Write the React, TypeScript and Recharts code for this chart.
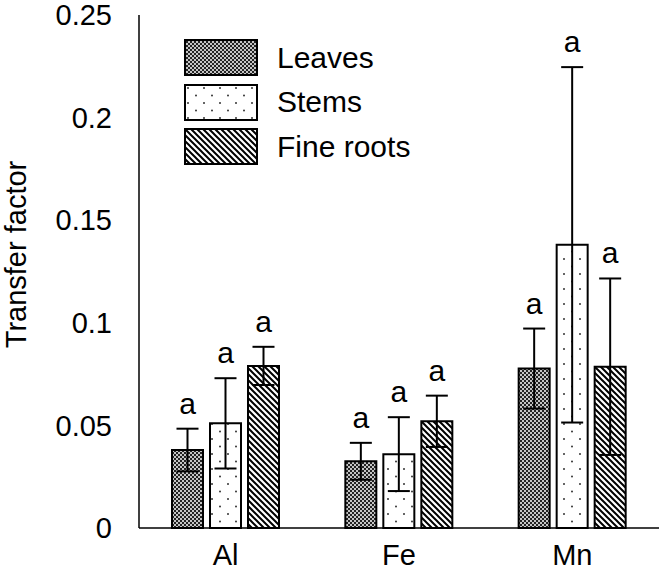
import React from 'react';
import { BarChart, Bar, XAxis, YAxis, ErrorBar, LabelList, Legend, Label } from 'recharts';

// Transfer factor per element and plant part (mean ± SD)
const elements = ['Al', 'Fe', 'Mn'];
const leavesMean = [0.038, 0.0325, 0.0777];
const leavesSd = [0.0104, 0.009, 0.0195];
const stemsMean = [0.051, 0.036, 0.138];
const stemsSd = [0.022, 0.018, 0.0866];
const rootsMean = [0.079, 0.052, 0.0786];
const rootsSd = [0.0093, 0.0125, 0.043];
const yTicks = [0, 0.05, 0.1, 0.15, 0.2, 0.25];

const series = [
  { key: 'leaves', name: 'Leaves', pattern: 'pat-leaves', sd: leavesSd },
  { key: 'stems', name: 'Stems', pattern: 'pat-stems', sd: stemsSd },
  { key: 'roots', name: 'Fine roots', pattern: 'pat-roots', sd: rootsSd },
];

const data = elements.map((el, i) => ({
  name: el,
  leaves: leavesMean[i],
  leavesErr: leavesSd[i],
  stems: stemsMean[i],
  stemsErr: stemsSd[i],
  roots: rootsMean[i],
  rootsErr: rootsSd[i],
}));

const FONT = '"Liberation Sans", Arial, sans-serif';

// significance letter sitting just above the top of the error bar
const letterLabel = (sd: number[]) => (props: any) => {
  const { x, y, width, height, value, index } = props;
  const perUnit = value ? height / value : 0;
  const errTop = y - sd[index] * perUnit;
  return (
    <text x={x + width / 2} y={errTop - 15} textAnchor="middle" fontSize={30} fontFamily={FONT} fill="#000">
      a
    </text>
  );
};

const renderLegend = () => (
  <div style={{ fontFamily: FONT, fontSize: 30, color: '#000' }}>
    {series.map((s) => (
      <div key={s.key} style={{ display: 'flex', alignItems: 'center', height: 37, marginBottom: 7.6 }}>
        <svg width={74} height={37} style={{ display: 'block' }}>
          <rect x={1} y={1} width={72} height={35} fill={`url(#${s.pattern})`} stroke="#000" strokeWidth={2} />
        </svg>
        <span style={{ marginLeft: 19, whiteSpace: 'nowrap' }}>{s.name}</span>
      </div>
    ))}
  </div>
);

export default function App() {
  return (
    <div style={{ position: 'absolute', left: 0, top: 0, background: '#fff' }}>
      <BarChart
        width={662}
        height={576}
        data={data}
        margin={{ top: 15, right: 3, left: 0, bottom: 0 }}
        barSize={31}
        barGap={7}
      >
        <defs>
          <pattern id="pat-leaves" patternUnits="userSpaceOnUse" width={4} height={4}>
            <rect width={4} height={4} fill="#c4c4c4" />
            <rect width={2} height={2} fill="#222" />
            <rect x={2} y={2} width={2} height={2} fill="#222" />
          </pattern>
          <pattern id="pat-stems" patternUnits="userSpaceOnUse" width={16} height={15}>
            <rect width={16} height={15} fill="#fff" />
            <circle cx={4} cy={4} r={1} fill="#333" />
            <circle cx={12} cy={11.5} r={1} fill="#333" />
          </pattern>
          <pattern id="pat-roots" patternUnits="userSpaceOnUse" width={6} height={6}>
            <rect width={6} height={6} fill="#fff" />
            <path d="M-1,-1 L7,7 M-1,5 L1,7 M5,-1 L7,1" stroke="#000" strokeWidth={2} />
          </pattern>
        </defs>
        <XAxis
          dataKey="name"
          height={48}
          axisLine={{ stroke: '#000', strokeWidth: 1.5 }}
          tickLine={false}
          tickSize={0}
          tickMargin={16}
          tick={{ fill: '#000', fontSize: 29, fontFamily: FONT }}
        />
        <YAxis
          width={139}
          domain={[0, 0.25]}
          ticks={yTicks}
          interval={0}
          axisLine={{ stroke: '#000', strokeWidth: 1.5 }}
          tickLine={false}
          tickSize={0}
          tickMargin={27}
          tickFormatter={(v: number) => String(v)}
          tick={{ fill: '#000', fontSize: 29, fontFamily: FONT }}
        >
          <Label
            value="Transfer factor"
            angle={-90}
            position="center"
            dx={-54}
            dy={-17}
            style={{ fill: '#000', fontSize: 29, fontFamily: FONT }}
          />
        </YAxis>
        <Legend
          layout="horizontal"
          verticalAlign="middle"
          align="center"
          content={renderLegend}
          wrapperStyle={{ left: 184, top: 39, width: 'auto', height: 'auto' }}
        />
        {series.map((s) => (
          <Bar
            key={s.key}
            dataKey={s.key}
            name={s.name}
            fill={`url(#${s.pattern})`}
            stroke="#000"
            strokeWidth={2}
            isAnimationActive={false}
          >
            <ErrorBar dataKey={`${s.key}Err`} width={11} stroke="#000" strokeWidth={2} direction="y" />
            <LabelList dataKey={s.key} content={letterLabel(s.sd)} />
          </Bar>
        ))}
      </BarChart>
    </div>
  );
}
